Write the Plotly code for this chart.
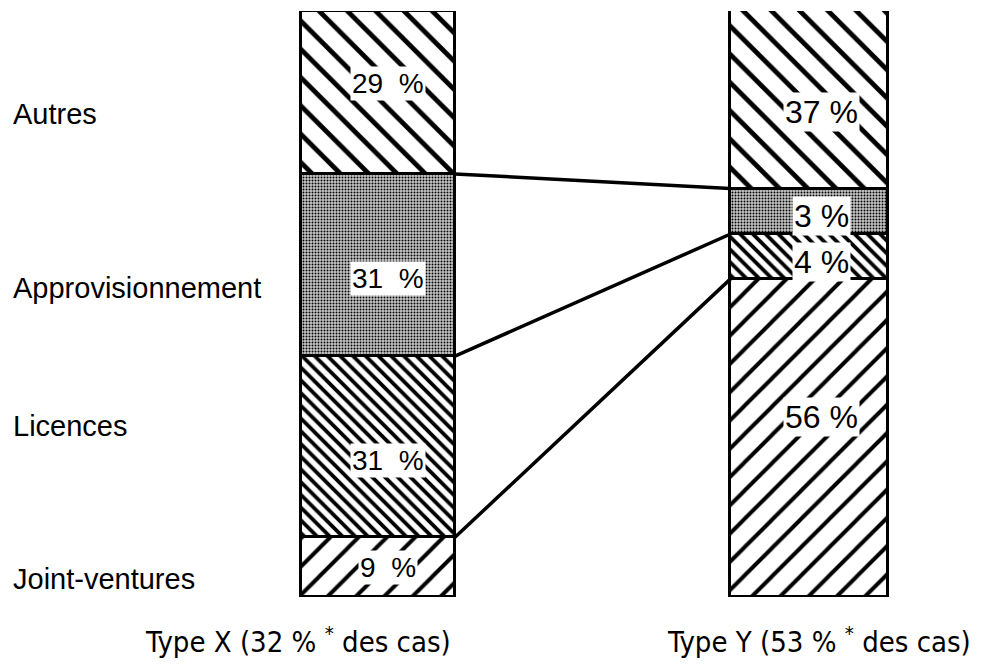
import plotly.graph_objects as go

# Data
categories = ["Joint-ventures", "Licences", "Approvisionnement", "Autres"]
groups = ["Type X (32 %\u00a0<sup>*</sup> des cas)", "Type Y (53 %\u00a0<sup>*</sup> des cas)"]
share_x = [9, 31, 31, 29]          # printed percentages, Type X
share_y = [56, 4, 3, 37]           # printed percentages, Type Y
# segment heights as drawn in the figure (share of bar height, %)
drawn_x = [10.2, 30.9, 31.1, 27.8]
drawn_y = [54.2, 7.7, 7.8, 30.4]

# Layout constants. The page body has an 8px margin, so the figure is
# drawn 8px smaller and the x axis is expressed in page pixels.
PAGE_W, PAGE_H, OFF = 989, 669, 8
W, H = PAGE_W - OFF, PAGE_H - OFF
top_px, bottom_px = 11, 597
plot_h = bottom_px - top_px
bar_centers = [378, 809]
bar_widths = [154, 158]
label_dx = [10, 12]                      # label x shift from bar centre (px)
label_dy = [[0, 14, 13, -9], [-21, 5, 5, 13]]  # label y shift, px (down +)

patterns = [
    dict(shape="/", size=20, solidity=0.2, fgcolor="black", bgcolor="white", fgopacity=1),
    dict(shape="\\", size=9, solidity=0.42, fgcolor="black", bgcolor="white", fgopacity=1),
    dict(shape=".", size=3, solidity=0.33, fgcolor="black", bgcolor="#c8c8c8", fgopacity=1),
    dict(shape="\\", size=20, solidity=0.24, fgcolor="black", bgcolor="white", fgopacity=1),
]

fig = go.Figure()
for i, cat in enumerate(categories):
    fig.add_trace(go.Bar(
        x=bar_centers, y=[drawn_x[i], drawn_y[i]], width=bar_widths,
        name=cat,
        marker=dict(color="white", line=dict(color="black", width=3.5), pattern=patterns[i]),
        showlegend=False, hoverinfo="skip",
    ))

def cum(vals):
    out, s = [], 0
    for v in vals:
        s += v
        out.append(s)
    return out

cx, cy = cum(drawn_x), cum(drawn_y)
x_right = bar_centers[0] + bar_widths[0] / 2
y_left = bar_centers[1] - bar_widths[1] / 2
for i in range(3):
    fig.add_trace(go.Scatter(
        x=[x_right, y_left], y=[cx[i], cy[i]], mode="lines",
        line=dict(color="black", width=3.5), showlegend=False, hoverinfo="skip",
    ))

font_main = "Liberation Sans, Arial, sans-serif"
font_narrow = "DejaVu Sans Condensed, Liberation Sans, sans-serif"
px2data = 100.0 / plot_h
ann = []
for bi, (drawn, share) in enumerate([(drawn_x, share_x), (drawn_y, share_y)]):
    c = cum(drawn)
    fs = 28 if bi == 0 else 32
    sep = "\u00a0\u00a0" if bi == 0 else "\u00a0"
    for i in range(4):
        mid = c[i] - drawn[i] / 2 - label_dy[bi][i] * px2data
        ann.append(dict(x=bar_centers[bi] + label_dx[bi], y=mid, text=f"{share[i]}{sep}%",
                        showarrow=False, bgcolor="white", borderpad=1,
                        font=dict(size=fs, color="black", family=font_main)))

label_y_px = [579, 426, 288, 114]
for cat, ly in zip(categories, label_y_px):
    ann.append(dict(x=11, y=(bottom_px - ly) * px2data, text=cat, showarrow=False,
                    xanchor="left",
                    font=dict(size=29, color="black", family=font_main)))

bottom_centers = [298, 819]
for g, bc in zip(groups, bottom_centers):
    ann.append(dict(x=bc, xref="x", y=(bottom_px - 640) / plot_h, yref="paper",
                    text=g, showarrow=False, yanchor="middle",
                    font=dict(size=29, color="black", family=font_narrow)))

fig.update_layout(
    width=W, height=H, barmode="stack",
    margin=dict(l=0, r=0, t=top_px - OFF, b=H - (bottom_px - OFF)),
    plot_bgcolor="white", paper_bgcolor="white",
    xaxis=dict(range=[OFF, PAGE_W], visible=False, fixedrange=True),
    yaxis=dict(range=[0, 100], visible=False, fixedrange=True),
    annotations=ann, bargap=0,
)
fig.write_html("out.html")
